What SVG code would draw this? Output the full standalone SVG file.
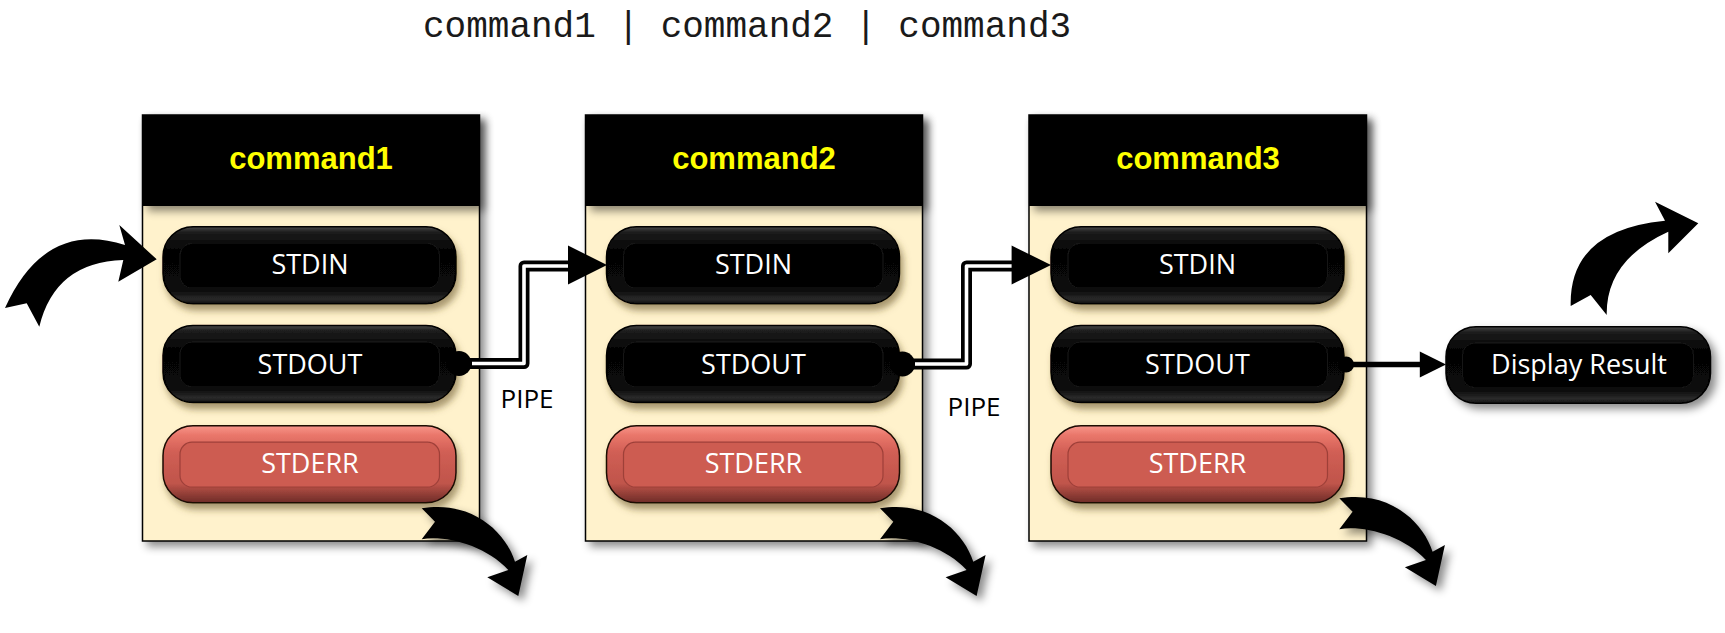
<svg xmlns="http://www.w3.org/2000/svg" xmlns:xlink="http://www.w3.org/1999/xlink" width="1725" height="633" viewBox="0 0 1725 633">
<style>
.box{fill:#FFF2CC;stroke:#000;stroke-width:1.5}
.hdr{fill:#000}
.h{font-family:"Liberation Sans",Arial,sans-serif;font-weight:bold;font-size:31px;fill:#FFFF00;text-anchor:middle}
.t{font-family:"Open Sans","DejaVu Sans",sans-serif;font-size:27px;fill:#fff;text-anchor:middle}
.lbl{font-family:"Open Sans","DejaVu Sans",sans-serif;font-size:26px;fill:#000;text-anchor:middle}
.title{font-family:"Liberation Mono","Courier New",monospace;font-size:36px;fill:#1a1a1a}
.pipeO{fill:none;stroke:#000;stroke-width:11;stroke-linejoin:round}
.pipeI{fill:none;stroke:#fff;stroke-width:3.6;stroke-linejoin:round}
</style>
<defs>
<filter id="sh" x="-10%" y="-10%" width="130%" height="130%">
<feDropShadow dx="5" dy="5" stdDeviation="4" flood-color="#000" flood-opacity="0.45"/>
</filter>
<filter id="shp" x="-10%" y="-20%" width="130%" height="160%">
<feDropShadow dx="3" dy="6" stdDeviation="3.5" flood-color="#5e4c1e" flood-opacity="0.55"/>
</filter>
<linearGradient id="gBlack" x1="0" y1="0" x2="0" y2="1">
<stop offset="0" stop-color="#4a4a4a"/>
<stop offset="0.07" stop-color="#1c1c1c"/>
<stop offset="0.3" stop-color="#050505"/>
<stop offset="0.82" stop-color="#080808"/>
<stop offset="0.94" stop-color="#2a2a2a"/>
<stop offset="1" stop-color="#101010"/>
</linearGradient>
<linearGradient id="gRed" x1="0" y1="0" x2="0" y2="1">
<stop offset="0" stop-color="#f7968a"/>
<stop offset="0.12" stop-color="#ea776b"/>
<stop offset="0.35" stop-color="#d05e54"/>
<stop offset="0.75" stop-color="#c0554b"/>
<stop offset="0.9" stop-color="#8e3c35"/>
<stop offset="1" stop-color="#6e2c27"/>
</linearGradient>
<g id="pillB">
<rect width="293" height="77" rx="30" fill="url(#gBlack)" stroke="#000" stroke-width="1.5"/>
<rect x="17" y="16.5" width="259.5" height="45" rx="12" fill="#040404" stroke="#161616" stroke-width="1"/>
</g>
<g id="pillR">
<rect width="293" height="77" rx="30" fill="url(#gRed)" stroke="#1a0806" stroke-width="1.5"/>
<rect x="17" y="16.5" width="259.5" height="45" rx="12" fill="#cd5b51" stroke="#9e4039" stroke-width="1.2"/>
</g>
<path id="arrB" d="M 0,0 L 13.3,13.4 L 0,31 C 23.3,26.7 63.3,36.7 86.6,61.7 L 65.6,69 L 96.6,87.7 L 105.6,46.7 L 93.3,53.4 C 83.3,21.7 48.3,-8.3 0,0 Z"/>
</defs>
<rect width="1725" height="633" fill="#fff"/>

<text class="title" x="423" y="37">command1 | command2 | command3</text>

<g id="cmd1">
<rect class="box" x="142.5" y="115" width="337" height="426" filter="url(#sh)"/>
<rect class="hdr" x="142.5" y="115" width="337" height="91" filter="url(#sh)"/>
<text class="h" x="311" y="168.5">command1</text>
<use xlink:href="#pillB" x="163" y="226.7" filter="url(#shp)"/>
<text class="t" x="310" y="274">STDIN</text>
<use xlink:href="#pillB" x="163" y="325.5" filter="url(#shp)"/>
<text class="t" x="310" y="374">STDOUT</text>
<use xlink:href="#pillR" x="163" y="425.7" filter="url(#shp)"/>
<text class="t" x="310" y="473">STDERR</text>
</g>

<g id="cmd2">
<rect class="box" x="585.5" y="115" width="337" height="426" filter="url(#sh)"/>
<rect class="hdr" x="585.5" y="115" width="337" height="91" filter="url(#sh)"/>
<text class="h" x="754" y="168.5">command2</text>
<use xlink:href="#pillB" x="606.5" y="226.7" filter="url(#shp)"/>
<text class="t" x="753.5" y="274">STDIN</text>
<use xlink:href="#pillB" x="606.5" y="325.5" filter="url(#shp)"/>
<text class="t" x="753.5" y="374">STDOUT</text>
<use xlink:href="#pillR" x="606.5" y="425.7" filter="url(#shp)"/>
<text class="t" x="753.5" y="473">STDERR</text>
</g>

<g id="cmd3">
<rect class="box" x="1029" y="115" width="337.5" height="426" filter="url(#sh)"/>
<rect class="hdr" x="1029" y="115" width="337.5" height="91" filter="url(#sh)"/>
<text class="h" x="1198" y="168.5">command3</text>
<use xlink:href="#pillB" x="1051" y="226.7" filter="url(#shp)"/>
<text class="t" x="1197.5" y="274">STDIN</text>
<use xlink:href="#pillB" x="1051" y="325.5" filter="url(#shp)"/>
<text class="t" x="1197.5" y="374">STDOUT</text>
<use xlink:href="#pillR" x="1051" y="425.7" filter="url(#shp)"/>
<text class="t" x="1197.5" y="473">STDERR</text>
</g>

<g id="display">
<g filter="url(#sh)">
<rect x="1446" y="326.7" width="264.5" height="76.6" rx="30" fill="url(#gBlack)" stroke="#000" stroke-width="1.5"/>
<rect x="1462.5" y="343" width="231" height="44.7" rx="12" fill="#040404" stroke="#161616" stroke-width="1"/>
</g>
<text class="t" x="1579" y="374">Display Result</text>
</g>

<g id="connectors">
<circle cx="459" cy="363.5" r="12.5" fill="#000"/>
<path class="pipeO" d="M 459,363.5 H 524 V 266 H 572"/>
<path class="pipeI" d="M 472,363.5 H 524 V 266 H 570"/>
<polygon points="568,245.5 607,265 568,284.5" fill="#000"/>
<text class="lbl" x="527" y="408">PIPE</text>

<circle cx="902.5" cy="364" r="12.5" fill="#000"/>
<path class="pipeO" d="M 902.5,364 H 966.5 V 266 H 1015"/>
<path class="pipeI" d="M 915,364 H 966.5 V 266 H 1013"/>
<polygon points="1011.6,245.5 1051,265 1011.6,284.5" fill="#000"/>
<text class="lbl" x="974" y="416">PIPE</text>

<circle cx="1346" cy="364.5" r="8" fill="#000"/>
<line x1="1346" y1="364.5" x2="1422" y2="364.5" stroke="#000" stroke-width="5.5"/>
<polygon points="1419.8,351.5 1446,364.5 1419.8,377.5" fill="#000"/>

<path d="M 5,308 L 26.7,303.3 L 39.3,326.7 Q 55,262 123.3,260 L 118.3,281.7 L 156.7,259.3 L 119.3,225 L 125,245 Q 45,219.5 5,308 Z" fill="#000"/>
<path d="M 1570.7,306 L 1590.7,295 L 1606.7,315 Q 1605.9,260 1668.3,231.7 L 1668.3,253.3 L 1698.3,223.3 L 1655,201.7 L 1665,220.7 Q 1568.8,230 1570.7,306 Z" fill="#000"/>

<use xlink:href="#arrB" x="421.7" y="508.3" fill="#000" filter="url(#sh)"/>
<use xlink:href="#arrB" x="880" y="508.3" fill="#000" filter="url(#sh)"/>
<use xlink:href="#arrB" x="1339.3" y="498.3" fill="#000" filter="url(#sh)"/>
</g>
</svg>
